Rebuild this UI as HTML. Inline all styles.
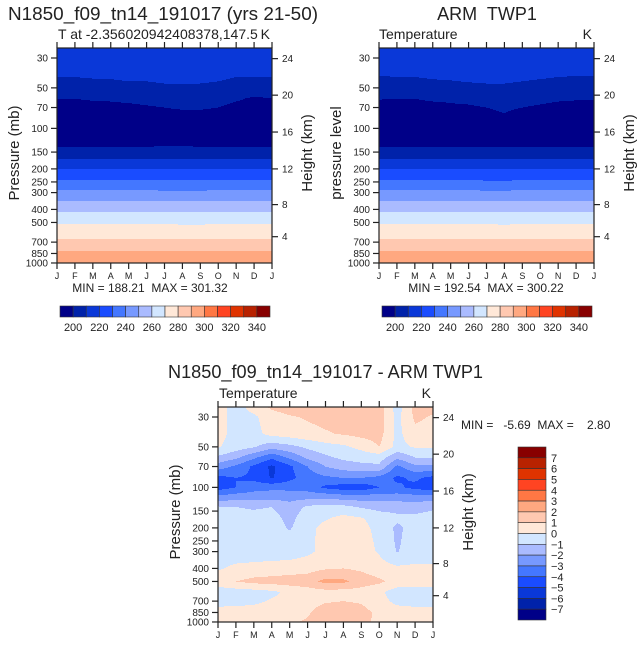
<!DOCTYPE html>
<html><head><meta charset="utf-8">
<style>
html,body{margin:0;padding:0;background:#fff;}
svg{display:block;font-family:"Liberation Sans",sans-serif;}
text{fill:#222;white-space:pre;}
</style></head>
<body>
<svg id="fig" width="641" height="645" viewBox="0 0 641 645" xmlns="http://www.w3.org/2000/svg">
<g id="p1"></g>
<g id="p2"></g>
<g id="p3"></g>
</svg>
<script>
// ---- data ----
const months = ['J','F','M','A','M','J','J','A','S','O','N','D','J'];
const pressureTicks = [30,50,70,100,150,200,250,300,400,500,700,850,1000];
const heightTicks = [4,8,12,16,20,24];
const tempLevels = [200,210,220,230,240,250,260,270,280,290,300,310,320,330,340];
const tempLabels = [200,220,240,260,280,300,320,340];
const diffLevels = [-7,-6,-5,-4,-3,-2,-1,0,1,2,3,4,5,6,7];
const diffLabels = [7,6,5,4,3,2,1,0,-1,-2,-3,-4,-5,-6,-7];
const palette = ['#000088','#0022aa','#0a38d8','#1a4cff','#4477ff','#7799ff','#aabbff','#d2e6ff','#ffe8d8','#ffc8b0','#ffa880','#ff7744','#ff4422','#e03300','#b82200','#880000'];

const gridP = [25,30,40,50,60,70,85,100,137,168,200,242,287,344,418,513,663,815,1000];
const modelT = [
[217,217,217,217,217,217,217,217,217,217,217,217,217],
[215,215,215,215,215,215,215,215,215,215,215,215,215],
[211,211,212,212,213,213,214,214,214,213,211,211,211],
[205,205,205,206,207,207,208,208,208,207,205,205,205],
[200,200,201,201,202,203,204,205,204,203,201,199,200],
[197,197,197,198,198,199,200,201,201,200,198,197,197],
[194,194,194,194,194,195,196,196,196,195,194,194,194],
[192,192,192,192,192,192,192,192,192,192,192,192,192],
[200,200,200,200,200,200,200.3,200.3,200,200,200,200,200],
[210,210,210,210,210,210,210,210,210,210,210,210,210],
[220,220,220,220,220,220,220,220,219.7,219.7,220,220,220],
[230,230,230,230,230,230,230,230,230,230,230,230,230],
[240,240,240,240,239.6,239.6,239.5,239.5,239.5,239.6,240,240,240],
[250,250,250,250,249.7,249.6,249.5,249.5,249.5,249.5,249.7,250,250],
[260,260,260,260,259.8,259.7,259.6,259.6,259.6,259.6,259.8,260,260],
[270,270,270,270,270,269.8,269.7,269.6,269.6,269.7,269.8,270,270],
[280,280,280,280,280,280,280,280,280,280,280,280,280],
[290,290,290,290,290,290,289.8,289.7,289.7,289.8,290,290,290],
[298,298,298,298,298,298,298,298,298,298,298,298,298]
];
const obsT = [
[217,217,217,217,217,217,217,217,217,217,217,217,217],
[215,215,215,215,215,215,215,215,215,215,215,215,215],
[210.5,211,211,212,213,214,214,214,213,212,211,210.5,210.5],
[204,205,205,206,206,207,208,208,207,206,205,205,204],
[200.3,200,200,201,201,202,203,204,203,202,201,200.5,200.3],
[198,198,198,198,199,199,200,201,200,199,198,198,198],
[196,196,196,196,196,197,198,199,197,196,196,196,196],
[194,194,194,194,194,194,195,195,194,194,194,194,194],
[200,200,200,200,200,200,200,200,200,200,200,200,200],
[210,210,210,210,210,210,210,210,210,210,210,210,210],
[220,220,220,220,220,219.8,219.6,219.6,219.7,220,220,220,220],
[230,230,230,230,229.8,229.7,229.5,229.5,229.6,229.8,230,230,230],
[240,240,240,240,239.8,239.6,239.5,239.5,239.6,239.8,240,240,240],
[250,250,250,250,249.8,249.7,249.5,249.5,249.6,249.8,250,250,250],
[260,260,260,260,259.8,259.7,259.6,259.6,259.7,259.8,260,260,260],
[270,270,270,270,270,269.8,269.7,269.6,269.7,269.8,270,270,270],
[280,280,280,280,280,280,279.8,279.8,280,280,280,280,280],
[290,290,290,290,290,289.8,289.7,289.7,289.8,290,290,290,290],
[298,298,298,298,298,298,298,298,298,298,298,298,298]
];
const diffP = [25,30,40,50,60,70,85,100,120,140,170,200,250,300,400,500,600,700,850,1000];
const diffT = [
[0.5,-0.5,0.5,1.2,1.5,1.5,1.5,1.5,1.5,1.5,-0.5,1.3,1.3],
[0.5,-0.5,-0.2,0.6,0.9,1.1,1.3,1.4,1.5,1.5,-0.3,1.2,0.9],
[0.4,-0.4,-0.3,0.3,0.5,0.7,0.9,1.1,1.3,1.4,-0.3,0.7,0.6],
[0.1,-0.5,-0.9,-1.6,-1.3,-0.8,-0.4,-0.2,0.3,1.0,-0.3,0.1,0.1],
[-1.2,-1.8,-2.8,-3.8,-2.8,-1.8,-1.2,-0.8,-0.6,-0.5,-1.8,-1.0,-1.0],
[-2.5,-3.2,-4.2,-5.2,-4.2,-3.0,-2.0,-1.5,-1.3,-1.2,-3.2,-2.2,-2.2],
[-4.3,-4.0,-4.2,-5.1,-4.3,-3.5,-3.2,-3.0,-3.0,-3.3,-4.2,-3.8,-4.3],
[-4.5,-4.0,-3.5,-3.3,-3.3,-3.5,-4.2,-4.5,-4.6,-4.0,-3.8,-4.3,-4.6],
[-2.5,-2.3,-2.2,-2.2,-2.3,-2.2,-2.1,-2.3,-2.4,-2.3,-2.4,-2.4,-2.4],
[-0.9,-1.0,-1.1,-1.0,-1.6,-0.8,-0.6,-0.7,-1.1,-1.3,-1.3,-1.5,-1.2],
[-0.5,-0.6,-0.7,-0.6,-1.3,-0.4,-0.1,0.3,0.1,-0.5,-0.8,-0.7,-0.5],
[-0.5,-0.5,-0.5,-0.5,-1.1,-0.3,0.3,0.5,0.3,-0.3,-1.2,-0.6,-0.5],
[-0.5,-0.5,-0.5,-0.5,-0.6,-0.2,0.3,0.5,0.4,-0.2,-1.15,-0.5,-0.5],
[-0.5,-0.5,-0.5,-0.5,-0.5,-0.2,0.3,0.5,0.4,-0.1,-1.05,-0.5,-0.5],
[-0.1,0.2,0.3,0.4,0.5,0.6,0.9,1.0,0.8,0.4,0.2,0.2,0.2],
[0.5,1.0,1.3,1.4,1.5,1.6,2.3,2.2,1.6,1.2,0.6,0.5,0.5],
[-0.5,-0.5,-0.4,-0.2,0.2,0.5,0.6,0.6,0.5,0.2,-0.5,-0.5,-0.5],
[-0.3,-0.3,-0.2,0.1,0.3,0.6,0.9,1.0,0.9,0.4,-0.3,-0.4,-0.4],
[0.3,0.4,0.4,0.5,0.6,0.9,1.5,1.5,1.3,0.8,0.5,0.4,0.4],
[0.8,0.8,0.8,0.8,0.9,1.1,1.3,1.3,1.1,0.9,0.8,0.8,0.8]
];

// ---- helpers ----
const NS='http://www.w3.org/2000/svg';
function mk(parent,tag,attrs,txt){const e=document.createElementNS(NS,tag);for(const k in attrs)e.setAttribute(k,attrs[k]);if(txt!==undefined)e.textContent=txt;parent.appendChild(e);return e;}
const W=215,H=215,PX=134.6;
function heightToP(zkm){const z=zkm*1000;if(z<=11000)return 1013.25*Math.pow(1-2.2558e-5*z,5.2559);if(z<=20000)return 226.32*Math.exp(-(z-11000)/6341.6);return 54.75*Math.pow(1+0.001*(z-20000)/216.65,-34.16);}

function panel(g,x0,y0,levels,grid,thr,opts){
  const yOfP=p=>y0+10+PX*(Math.log10(p)-Math.log10(30));
  const xOfM=m=>x0+m*W/12;
  const lg=levels.map(p=>Math.log10(p));
  const fill=mk(g,'g',{});
  
  
  for(let j=0;j<H;j++){
    const yc=y0+j+0.5;
    let lp=Math.log10(30)+(yc-y0-10)/PX;
    let k=0;while(k<lg.length-2&&lp>lg[k+1])k++;
    let t=(lp-lg[k])/(lg[k+1]-lg[k]);t=Math.max(0,Math.min(1,t));
    let runStart=0,runC=-1;
    for(let i=0;i<=W;i++){
      let c=-1;
      if(i<W){
        const m=(i+0.5)/W*12;let a=Math.min(11,Math.floor(m));const u=m-a;
        const v0=grid[k][a]*(1-u)+grid[k][a+1]*u;
        const v1=grid[k+1][a]*(1-u)+grid[k+1][a+1]*u;
        const v=v0*(1-t)+v1*t;
        c=0;for(const th of thr){if(v>=th)c++;}
      }
      if(c!==runC){
        if(runC>=0){const r=mk(fill,'rect',{x:x0+runStart,y:y0+j,width:i-runStart+0.3,height:1.3,fill:palette[runC]});
          
          }
        runStart=i;runC=c;
      }
    }
  }
  const fr=mk(g,'rect',{x:x0,y:y0,width:W,height:H,fill:'none',stroke:'#222','stroke-width':1.2});
  
  
  months.forEach((mn,i)=>{
    const x=xOfM(i);
    mk(g,'line',{x1:x,y1:y0+H,x2:x,y2:y0+H+6,stroke:'#222','stroke-width':1.2});
    mk(g,'line',{x1:x,y1:y0,x2:x,y2:y0-6,stroke:'#222','stroke-width':1.2});
    const tl=mk(g,'text',{x:x,y:y0+H+16,'font-size':9,'text-anchor':'middle'},mn);
    
    
  });
  pressureTicks.forEach(p=>{
    const y=yOfP(p);
    mk(g,'line',{x1:x0-6,y1:y,x2:x0,y2:y,stroke:'#222','stroke-width':1.2});
    const tl=mk(g,'text',{x:x0-9,y:y+3.5,'font-size':10,'text-anchor':'end'},String(p));
    
    
  });
  heightTicks.forEach(h=>{
    const y=yOfP(heightToP(h))+2;
    mk(g,'line',{x1:x0+W,y1:y,x2:x0+W+6,y2:y,stroke:'#222','stroke-width':1.2});
    const tl=mk(g,'text',{x:x0+W+10,y:y+3.5,'font-size':10},String(h));
    
    
  });
  const yl=mk(g,'text',{x:0,y:0,'font-size':15,'text-anchor':'middle',transform:`translate(${x0-38},${y0+105}) rotate(-90)`,fill:'#555'},opts.ylab);
  
  
  const yr=mk(g,'text',{x:0,y:0,'font-size':15,'text-anchor':'middle',transform:`translate(${x0+W+40},${y0+105}) rotate(-90)`,fill:'#555'},'Height (km)');
  
  
  const lt=mk(g,'text',{x:opts.subX,y:y0-9,'font-size':14,fill:'#444'},opts.sub);
  
  
  const kt=mk(g,'text',{x:x0+W-2,y:y0-9,'font-size':14,'text-anchor':'end',fill:'#444'},'K');
  
  
}

function hbar(g,x0,y0){
  const bw=210/16;
  palette.forEach((c,i)=>{const r=mk(g,'rect',{x:x0+i*bw,y:y0,width:bw,height:11,fill:c,stroke:'#333','stroke-width':0.6});
    
    });
  tempLabels.forEach(v=>{const k=tempLevels.indexOf(v)+1;
    const t=mk(g,'text',{x:x0+k*bw,y:y0+25,'font-size':11,'text-anchor':'middle'},String(v));
    
    });
}

const g1=document.getElementById('p1'),g2=document.getElementById('p2'),g3=document.getElementById('p3');
panel(g1,57,48,gridP,modelT,tempLevels,{ylab:'Pressure (mb)',sub:'T at -2.356020942408378,147.5',subX:58});
panel(g2,379,48,gridP,obsT,tempLevels,{ylab:'pressure level',sub:'Temperature',subX:379});
panel(g3,218,407,diffP,diffT,diffLevels,{ylab:'Pressure (mb)',sub:'Temperature',subX:219});
hbar(g1,60,306);hbar(g2,382,306);

let t;
t=mk(g1,'text',{x:8,y:20,'font-size':18,textLength:310,lengthAdjust:'spacingAndGlyphs',fill:'#333'},'N1850_f09_tn14_191017 (yrs 21-50)');

t=mk(g1,'text',{x:150,y:292,'font-size':12,'text-anchor':'middle',fill:'#333'},'MIN = 188.21  MAX = 301.32');

t=mk(g2,'text',{x:487,y:20,'font-size':18,'text-anchor':'middle',fill:'#333'},'ARM  TWP1');

t=mk(g2,'text',{x:486,y:292,'font-size':12,'text-anchor':'middle',fill:'#333'},'MIN = 192.54  MAX = 300.22');

t=mk(g3,'text',{x:168,y:378,'font-size':18,textLength:315,lengthAdjust:'spacingAndGlyphs',fill:'#333'},'N1850_f09_tn14_191017 - ARM TWP1');

t=mk(g3,'text',{x:461,y:429,'font-size':12,fill:'#333'},'MIN =   -5.69  MAX =    2.80');

const vb=173/16;
palette.slice().reverse().forEach((c,i)=>{const r=mk(g3,'rect',{x:518,y:447+i*vb,width:28,height:vb,fill:c,stroke:'#333','stroke-width':0.6});
  
  });
diffLabels.forEach((v,i)=>{const tt=mk(g3,'text',{x:551,y:447+(i+1)*vb+4,'font-size':11},v<0?'\u2212'+(-v):String(v));
  
  });
</script>
</body></html>
